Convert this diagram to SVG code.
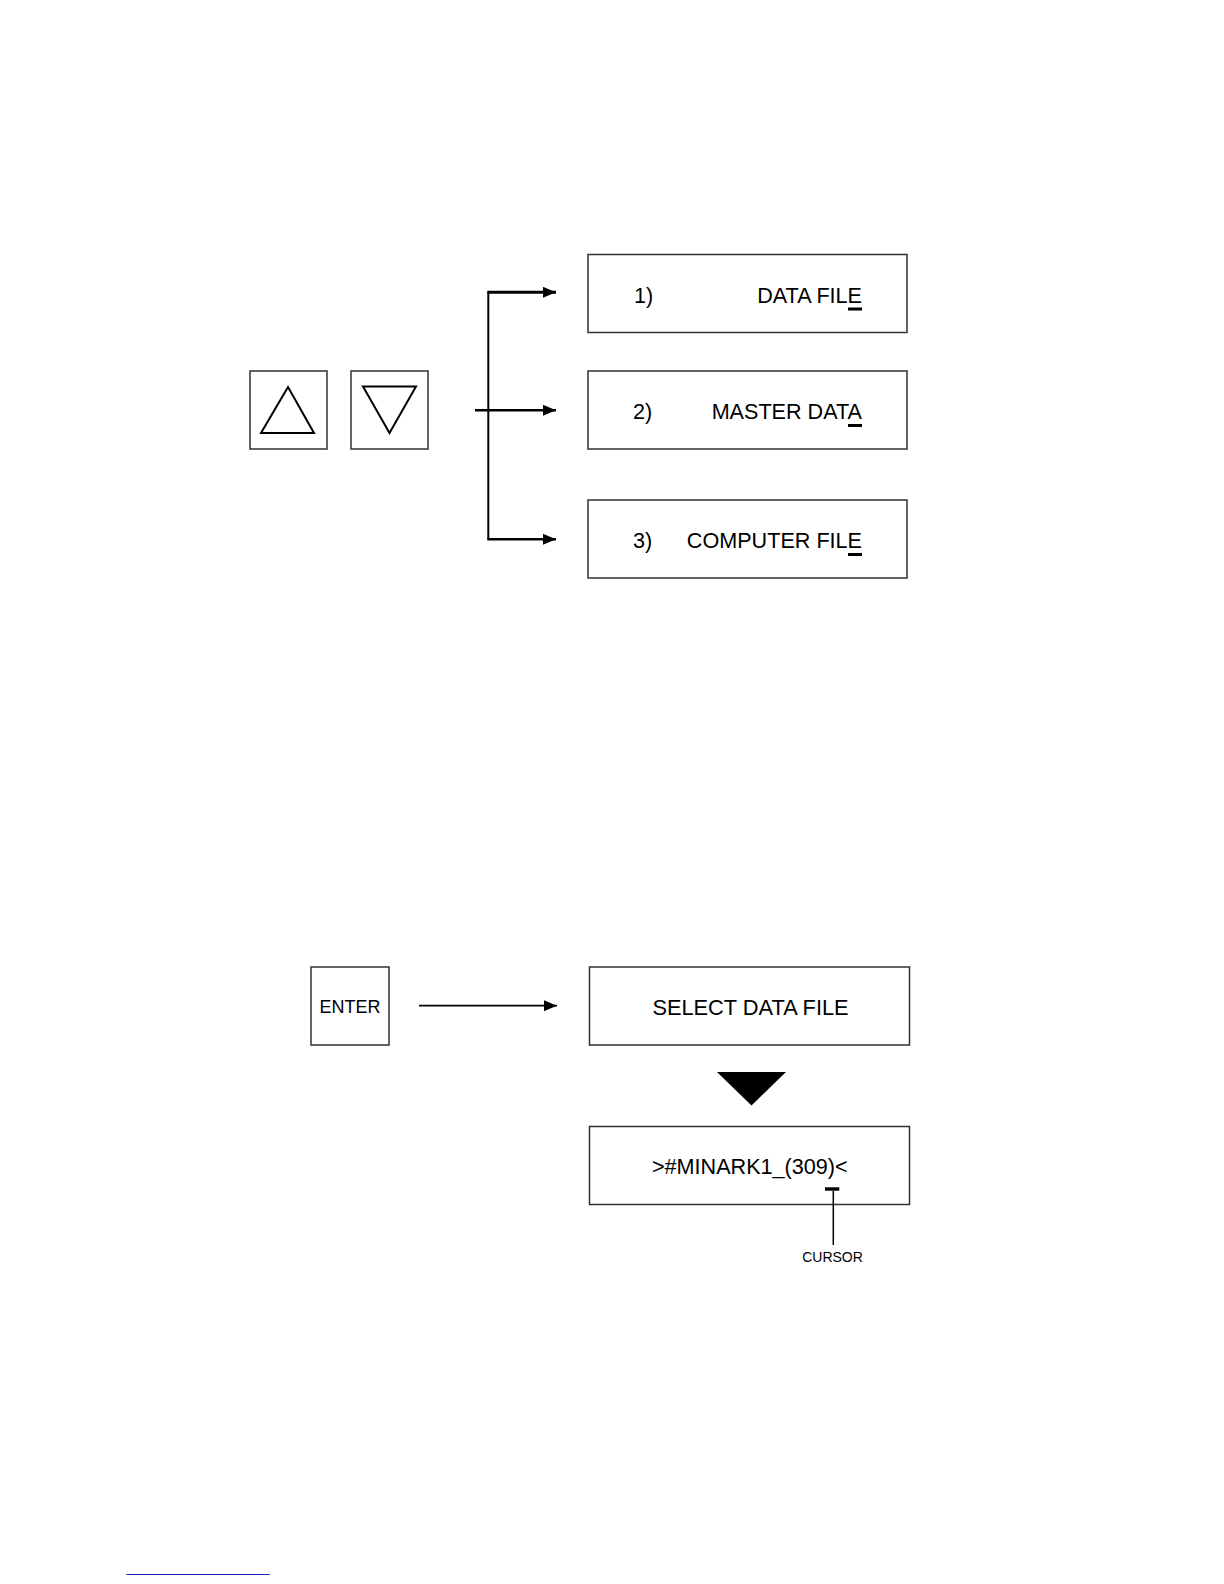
<svg xmlns="http://www.w3.org/2000/svg" width="1224" height="1584" viewBox="0 0 1224 1584">
<defs>
<style>
.box{fill:#fff;stroke:#333;stroke-width:1.5}
.tri{fill:none;stroke:#000;stroke-width:2}
.t{font-family:"Liberation Sans",Arial,sans-serif;font-size:21.6px;fill:#000}
.cur{fill:#000}
.ln{stroke:#000;stroke-width:2.5;fill:none}
</style>
<marker id="ah" markerWidth="13" markerHeight="11" refX="13" refY="5.5" orient="auto" markerUnits="userSpaceOnUse">
<path d="M0,0 L13,5.5 L0,11 Z" fill="#000"/>
</marker>
</defs>
<rect width="1224" height="1584" fill="#fff"/>
<g id="btn-up">
<rect class="box" x="250" y="371" width="77" height="78"/>
<path class="tri" d="M288,387 L261,433 L314,433 Z"/>
</g>
<g id="btn-down">
<rect class="box" x="351" y="371" width="77" height="78"/>
<path class="tri" d="M363,386.5 L416,386.5 L389.5,433 Z"/>
</g>
<g id="opt1">
<rect class="box" x="588" y="254.5" width="319" height="78"/>
<text class="t" x="634" y="302.5">1)</text>
<text class="t" x="862" y="302.5" text-anchor="end">DATA FILE</text>
<rect class="cur" x="848" y="307.5" width="14" height="3"/>
</g>
<g id="opt2">
<rect class="box" x="588" y="371" width="319" height="78"/>
<text class="t" x="633" y="419">2)</text>
<text class="t" x="862" y="419" text-anchor="end">MASTER DATA</text>
<rect class="cur" x="848" y="424" width="14" height="3"/>
</g>
<g id="opt3">
<rect class="box" x="588" y="500" width="319" height="78"/>
<text class="t" x="633" y="548">3)</text>
<text class="t" x="862" y="548" text-anchor="end">COMPUTER FILE</text>
<rect class="cur" x="848" y="553" width="14" height="3"/>
</g>
<g id="btn-enter">
<rect class="box" x="311" y="967" width="78" height="78"/>
<text class="t" x="350" y="1013" text-anchor="middle" style="font-size:18px">ENTER</text>
</g>
<g id="select">
<rect class="box" x="589.5" y="967" width="320" height="78"/>
<text class="t" x="750.5" y="1014.5" text-anchor="middle" style="font-size:21.8px">SELECT DATA FILE</text>
</g>
<g id="file">
<rect class="box" x="589.5" y="1126.5" width="320" height="78"/>
<text class="t" x="652" y="1174" style="font-size:21.6px">&gt;#MINARK1_(309)&lt;</text>
<rect class="cur" x="825" y="1187.3" width="14.3" height="3.4"/>
</g>
<g id="cursor-label">
<text class="t" x="832.5" y="1262" text-anchor="middle" style="font-size:14px">CURSOR</text>
</g>
<g id="connectors">
<path class="ln" d="M488.3,292.3 L488.3,539.3" style="stroke-width:2"/>
<path class="ln" d="M487.3,292.3 L556,292.3" style="stroke-width:3" marker-end="url(#ah)"/>
<path class="ln" d="M475,410.3 L556,410.3" marker-end="url(#ah)"/>
<path class="ln" d="M487.3,539.3 L556,539.3" marker-end="url(#ah)"/>
<path class="ln" d="M419,1005.7 L557,1005.7" style="stroke-width:1.8" marker-end="url(#ah)"/>
<path d="M717,1072 L786,1072 L751.5,1105.5 Z" fill="#000"/>
<path class="ln" d="M833.3,1190.7 L833.3,1245" style="stroke-width:1.5"/>
</g>
<line x1="126.3" y1="1574.5" x2="269.8" y2="1574.5" stroke="#2020c0" stroke-width="1"/>
</svg>
